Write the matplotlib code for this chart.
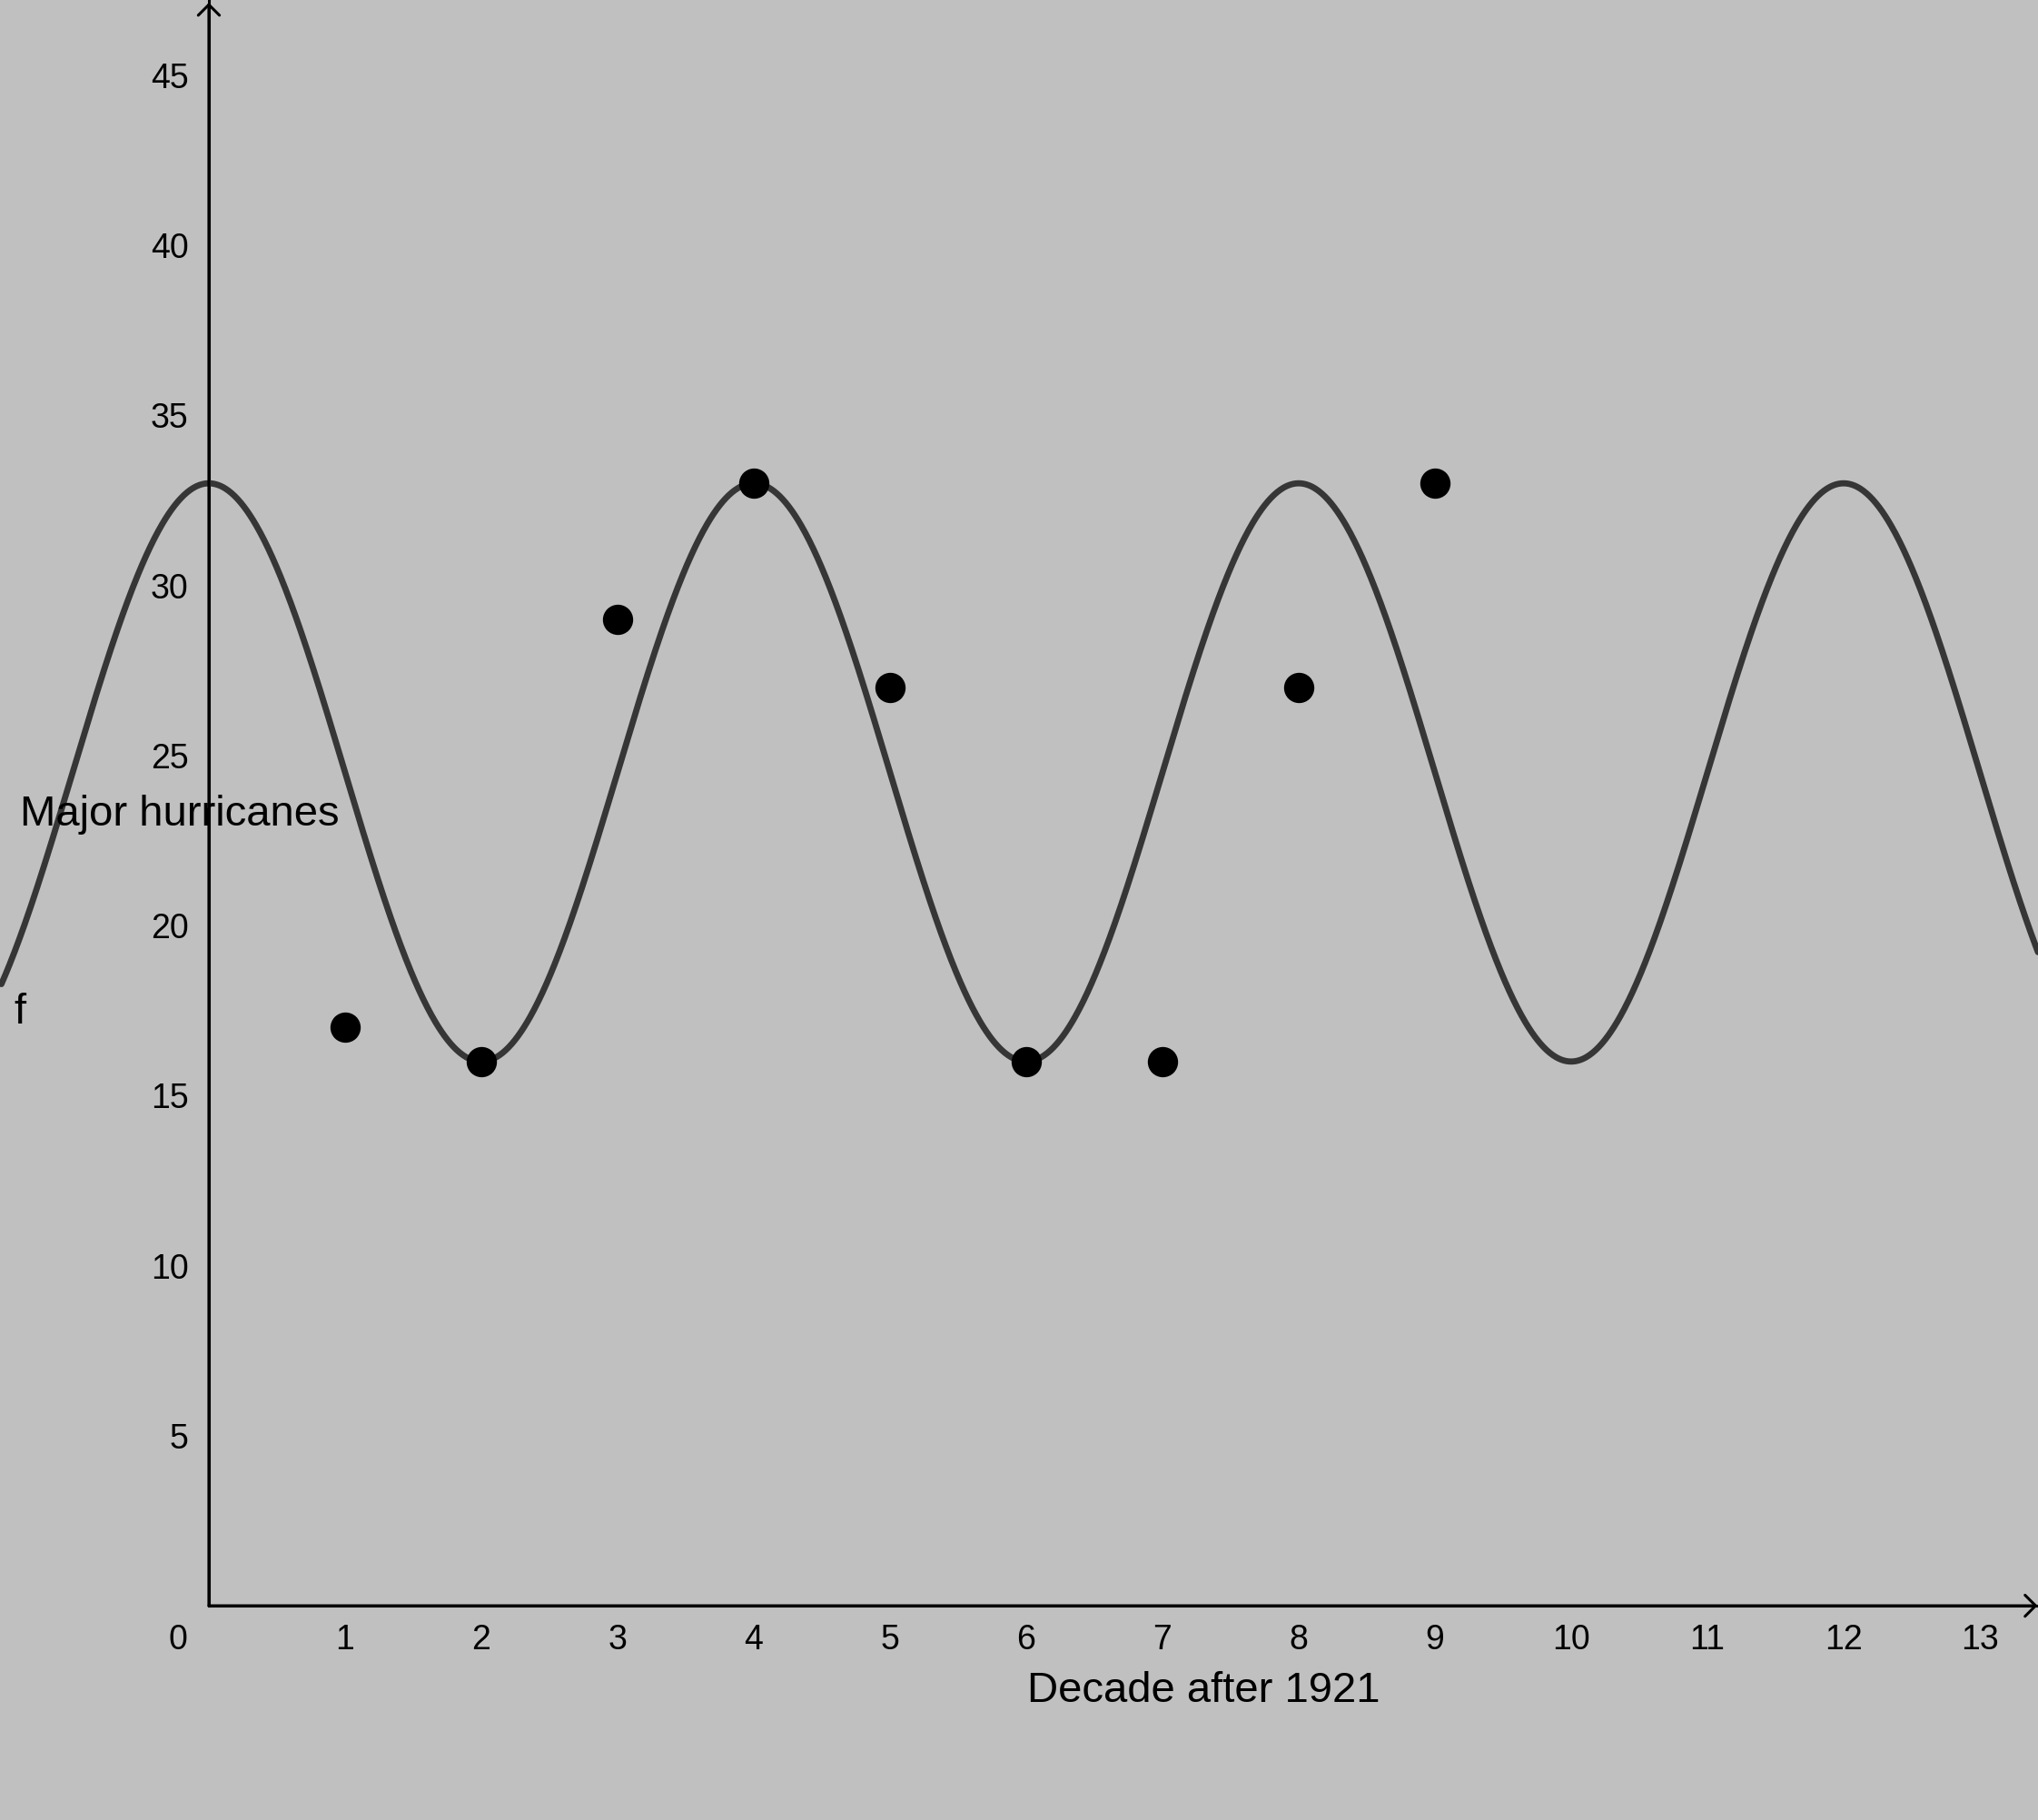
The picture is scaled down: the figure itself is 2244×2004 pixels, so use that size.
import numpy as np
import matplotlib
matplotlib.use("Agg")
import matplotlib.pyplot as plt

# hurricane counts per decade after 1921
decade = [1, 2, 3, 4, 5, 6, 7, 8, 9]
hurricanes = [17, 16, 29, 33, 27, 16, 16, 27, 33]

# model f(x) = a*cos(b*x) + d
amp = 8.5
period = 4.0
mid = 24.5

x_ticks = list(range(1, 14))
y_ticks = [5, 10, 15, 20, 25, 30, 35, 40, 45]

xmin, xmax = -1.533, 13.427
ymin, ymax = -6.30, 47.21

plt.rcParams['font.family'] = ['Liberation Sans', 'DejaVu Sans']

fig = plt.figure(figsize=(22.44, 20.04), dpi=100, facecolor='#c0c0c0')
ax = fig.add_axes([0, 0, 1, 1])
ax.set_facecolor('#c0c0c0')
ax.set_xlim(xmin, xmax)
ax.set_ylim(ymin, ymax)

# curve
xs = np.linspace(xmin + 0.01, xmax, 2000)
ax.plot(xs, amp * np.cos(2 * np.pi / period * xs) + mid, color='#363636', lw=4.9,
        solid_capstyle='round', zorder=3)

# data points
ax.plot(decade, hurricanes, 'o', color='black', markersize=23, zorder=4)

# axes
for s in ['top', 'right']:
    ax.spines[s].set_visible(False)
ax.spines['bottom'].set_position(('data', 0))
ax.spines['left'].set_position(('data', 0))
ax.spines['bottom'].set_bounds(0, xmax)
ax.spines['left'].set_bounds(0, ymax)
for s in ['bottom', 'left']:
    ax.spines[s].set_linewidth(2.2)
ax.set_xticks(x_ticks)
ax.set_yticks(y_ticks)
ax.tick_params(axis='x', length=0, pad=14.4, labelsize=27)
ax.tick_params(axis='y', length=0, pad=16, labelsize=27)

arrow = dict(arrowstyle='->,head_length=0.6,head_width=0.6', mutation_scale=14,
             lw=2.2, color='black', shrinkA=0, shrinkB=0)
ax.annotate('', xy=(xmax - 0.003, 0), xytext=(0, 0), arrowprops=arrow)
ax.annotate('', xy=(0, ymax - 0.08), xytext=(0, 0), arrowprops=arrow)

ax.annotate('0', xy=(0, 0), xytext=(-24.5, -14.4), textcoords='offset points',
            ha='center', va='top', fontsize=27)

ax.text(-1.387, 22.94, 'Major hurricanes', fontsize=34, ha='left', va='baseline', zorder=5)
ax.text(-1.433, 17.12, 'f', fontsize=34, ha='left', va='baseline')
ax.text(6.007, -2.83, 'Decade after 1921', fontsize=34, ha='left', va='baseline')

fig.savefig('out.png', dpi=100, facecolor='#c0c0c0')
